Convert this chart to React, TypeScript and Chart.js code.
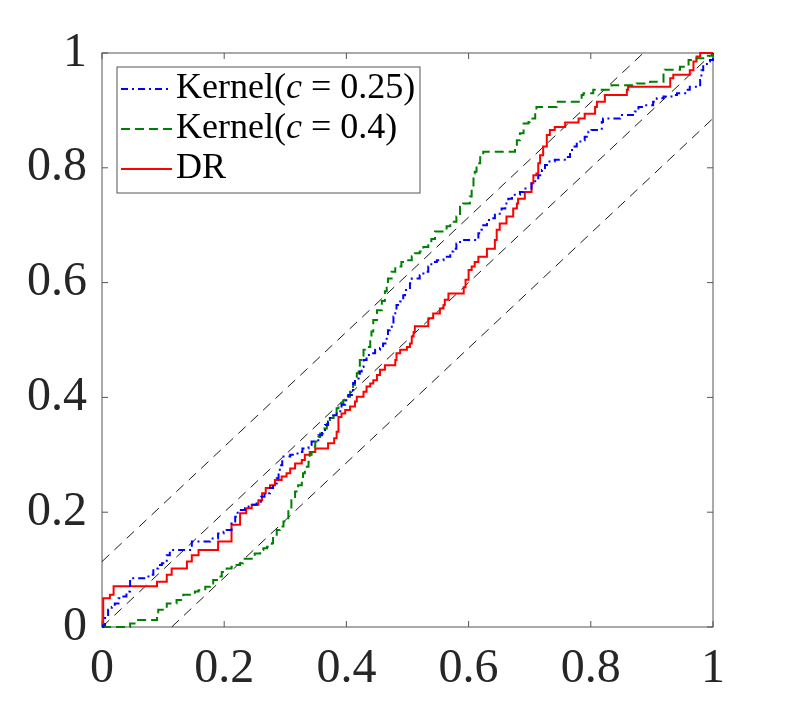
import React, { useEffect, useRef } from "react";
import Chart from "chart.js/auto";

// axis ticks
const tickValues = [0, 0.2, 0.4, 0.6, 0.8, 1];
const tickLabels = ["0", "0.2", "0.4", "0.6", "0.8", "1"];

// half-width of the dashed band around the diagonal
const bandOffset = 0.114;

// Kernel(c = 0.25)
const kernel025X = [
  0, 0.002, 0.005, 0.01, 0.016, 0.021, 0.027, 0.035, 0.04, 0.046, 0.073, 0.076, 0.084, 0.092, 0.098,
  0.106, 0.111, 0.147, 0.177, 0.19, 0.199, 0.204, 0.212, 0.218, 0.222, 0.234, 0.24, 0.245, 0.253,
  0.26, 0.266, 0.275, 0.28, 0.286, 0.289, 0.291, 0.295, 0.308, 0.32, 0.328, 0.338, 0.343, 0.354,
  0.36, 0.365, 0.37, 0.373, 0.376, 0.384, 0.39, 0.392, 0.398, 0.403, 0.409, 0.411, 0.414, 0.42,
  0.422, 0.425, 0.428, 0.433, 0.441, 0.447, 0.455, 0.46, 0.466, 0.468, 0.471, 0.477, 0.48, 0.482,
  0.488, 0.493, 0.496, 0.504, 0.507, 0.52, 0.526, 0.534, 0.539, 0.548, 0.559, 0.57, 0.575, 0.58,
  0.586, 0.616, 0.621, 0.624, 0.63, 0.638, 0.643, 0.649, 0.654, 0.66, 0.665, 0.671, 0.684, 0.69,
  0.703, 0.709, 0.714, 0.72, 0.725, 0.73, 0.741, 0.76, 0.766, 0.771, 0.777, 0.785, 0.79, 0.796,
  0.801, 0.818, 0.82, 0.848, 0.872, 0.878, 0.886, 0.902, 0.908, 0.919, 0.932, 0.941, 0.957, 0.962,
  0.979, 0.981, 0.984, 0.99, 0.995, 1,
];
const kernel025Y = [
  0, 0.003, 0.018, 0.03, 0.035, 0.041, 0.05, 0.053, 0.062, 0.085, 0.088, 0.091, 0.102, 0.108, 0.111,
  0.125, 0.134, 0.149, 0.154, 0.163, 0.166, 0.169, 0.184, 0.192, 0.204, 0.207, 0.21, 0.213, 0.215,
  0.227, 0.233, 0.242, 0.25, 0.259, 0.271, 0.282, 0.297, 0.3, 0.305, 0.311, 0.317, 0.323, 0.334,
  0.34, 0.352, 0.358, 0.364, 0.369, 0.372, 0.378, 0.387, 0.395, 0.404, 0.413, 0.425, 0.433, 0.439,
  0.445, 0.453, 0.465, 0.474, 0.477, 0.483, 0.486, 0.494, 0.506, 0.517, 0.523, 0.541, 0.552, 0.561,
  0.567, 0.578, 0.587, 0.599, 0.607, 0.613, 0.619, 0.628, 0.636, 0.639, 0.645, 0.654, 0.659, 0.668,
  0.674, 0.686, 0.692, 0.7, 0.709, 0.712, 0.718, 0.72, 0.729, 0.738, 0.746, 0.753, 0.758, 0.764,
  0.773, 0.779, 0.787, 0.796, 0.805, 0.811, 0.814, 0.819, 0.831, 0.837, 0.846, 0.848, 0.854, 0.863,
  0.866, 0.88, 0.886, 0.892, 0.898, 0.906, 0.909, 0.915, 0.921, 0.924, 0.927, 0.93, 0.936, 0.941,
  0.953, 0.97, 0.979, 0.985, 0.988, 1,
];

// Kernel(c = 0.4)
const kernel04X = [
  0, 0.046, 0.057, 0.09, 0.092, 0.106, 0.122, 0.133, 0.152, 0.158, 0.169, 0.177, 0.182, 0.19, 0.196,
  0.204, 0.212, 0.22, 0.226, 0.231, 0.25, 0.259, 0.264, 0.27, 0.278, 0.28, 0.286, 0.291, 0.297,
  0.305, 0.31, 0.316, 0.321, 0.327, 0.329, 0.332, 0.338, 0.34, 0.343, 0.346, 0.349, 0.354, 0.357,
  0.362, 0.368, 0.373, 0.379, 0.384, 0.387, 0.395, 0.403, 0.406, 0.411, 0.414, 0.417, 0.42, 0.422,
  0.428, 0.433, 0.439, 0.441, 0.444, 0.45, 0.458, 0.463, 0.466, 0.468, 0.474, 0.48, 0.485, 0.49,
  0.499, 0.507, 0.512, 0.52, 0.526, 0.534, 0.539, 0.545, 0.564, 0.57, 0.58, 0.586, 0.591, 0.602,
  0.605, 0.608, 0.61, 0.613, 0.619, 0.624, 0.676, 0.679, 0.684, 0.69, 0.698, 0.7, 0.709, 0.711,
  0.744, 0.785, 0.788, 0.804, 0.834, 0.875, 0.897, 0.919, 0.921, 0.946, 0.96, 0.973, 0.984, 1,
];
const kernel04Y = [
  0, 0.006, 0.012, 0.021, 0.03, 0.041, 0.047, 0.056, 0.062, 0.064, 0.07, 0.076, 0.082, 0.088, 0.096,
  0.102, 0.105, 0.108, 0.111, 0.119, 0.128, 0.134, 0.137, 0.14, 0.146, 0.157, 0.169, 0.175, 0.184,
  0.204, 0.221, 0.236, 0.247, 0.253, 0.268, 0.279, 0.288, 0.3, 0.305, 0.314, 0.323, 0.331, 0.337,
  0.346, 0.358, 0.364, 0.372, 0.381, 0.39, 0.395, 0.401, 0.41, 0.422, 0.43, 0.442, 0.453, 0.465,
  0.483, 0.488, 0.5, 0.515, 0.535, 0.552, 0.568, 0.585, 0.597, 0.607, 0.619, 0.625, 0.628, 0.636,
  0.639, 0.646, 0.651, 0.654, 0.662, 0.668, 0.676, 0.689, 0.698, 0.706, 0.715, 0.732, 0.738, 0.75,
  0.767, 0.79, 0.793, 0.808, 0.822, 0.828, 0.837, 0.848, 0.86, 0.877, 0.88, 0.886, 0.901, 0.906,
  0.915, 0.927, 0.93, 0.936, 0.944, 0.947, 0.95, 0.968, 0.971, 0.976, 0.988, 0.991, 0.995, 1,
];

// DR
const drX = [
  0, 0.002, 0.013, 0.019, 0.09, 0.106, 0.114, 0.139, 0.147, 0.158, 0.19, 0.212, 0.226, 0.236, 0.245,
  0.256, 0.262, 0.268, 0.275, 0.283, 0.294, 0.302, 0.308, 0.316, 0.327, 0.332, 0.34, 0.349, 0.37,
  0.38, 0.384, 0.387, 0.392, 0.398, 0.406, 0.414, 0.417, 0.428, 0.433, 0.439, 0.444, 0.45, 0.455,
  0.463, 0.48, 0.482, 0.488, 0.499, 0.504, 0.507, 0.51, 0.512, 0.534, 0.542, 0.553, 0.559, 0.561,
  0.567, 0.592, 0.595, 0.6, 0.605, 0.61, 0.616, 0.63, 0.643, 0.646, 0.651, 0.662, 0.673, 0.679,
  0.681, 0.692, 0.703, 0.706, 0.711, 0.714, 0.717, 0.722, 0.728, 0.733, 0.741, 0.758, 0.78, 0.79,
  0.807, 0.81, 0.823, 0.859, 0.861, 0.93, 0.935, 0.962, 0.968, 0.973, 0.979, 1,
];
const drY = [
  0, 0.05, 0.056, 0.071, 0.079, 0.091, 0.102, 0.114, 0.125, 0.134, 0.149, 0.178, 0.198, 0.207, 0.213,
  0.221, 0.233, 0.242, 0.247, 0.256, 0.262, 0.268, 0.276, 0.285, 0.291, 0.3, 0.305, 0.311, 0.32,
  0.329, 0.34, 0.366, 0.372, 0.378, 0.384, 0.393, 0.401, 0.41, 0.419, 0.424, 0.43, 0.439, 0.448,
  0.456, 0.465, 0.477, 0.483, 0.488, 0.494, 0.506, 0.514, 0.524, 0.538, 0.546, 0.555, 0.561, 0.57,
  0.581, 0.592, 0.605, 0.622, 0.628, 0.636, 0.645, 0.659, 0.674, 0.692, 0.703, 0.715, 0.729, 0.738,
  0.746, 0.758, 0.773, 0.787, 0.79, 0.808, 0.822, 0.837, 0.857, 0.866, 0.871, 0.879, 0.886, 0.894,
  0.906, 0.915, 0.927, 0.936, 0.941, 0.956, 0.962, 0.97, 0.985, 0.994, 1, 1,
];

const legendLabels = ["Kernel(c = 0.25)", "Kernel(c = 0.4)", "DR"];

const AXIS_COLOR = "#262626";
const FONT = "'Liberation Serif', 'Times New Roman', serif";

function zip(xs: number[], ys: number[]) {
  return xs.map((x, i) => ({ x, y: ys[i] }));
}

// MATLAB style box with inward ticks on every side
const plotBox = {
  id: "plotBox",
  beforeDatasetsDraw(chart: any) {
    const { ctx, chartArea, scales } = chart;
    const { left, right, top, bottom } = chartArea;
    ctx.save();
    ctx.strokeStyle = "#555555";
    ctx.lineWidth = 1;
    ctx.strokeRect(left, top, right - left, bottom - top);
    const len = 6;
    ctx.beginPath();
    tickValues.forEach((v) => {
      const px = scales.x.getPixelForValue(v);
      ctx.moveTo(px, bottom);
      ctx.lineTo(px, bottom - len);
      ctx.moveTo(px, top);
      ctx.lineTo(px, top + len);
      const py = scales.y.getPixelForValue(v);
      ctx.moveTo(left, py);
      ctx.lineTo(left + len, py);
      ctx.moveTo(right, py);
      ctx.lineTo(right - len, py);
    });
    ctx.stroke();
    ctx.restore();
  },
};

// legend box in the upper left, with an italic "c"
const boxLegend = {
  id: "boxLegend",
  afterDraw(chart: any) {
    const { ctx } = chart;
    const datasets = chart.data.datasets;
    const x0 = 117;
    const y0 = 67;
    const w = 303;
    const h = 126;
    ctx.save();
    ctx.fillStyle = "#ffffff";
    ctx.fillRect(x0, y0, w, h);
    ctx.strokeStyle = "#555555";
    ctx.lineWidth = 1;
    ctx.strokeRect(x0, y0, w, h);

    legendLabels.forEach((label, i) => {
      const ds = datasets[i];
      const baseline = 98 + i * 40;
      const ly = baseline - 9;
      ctx.beginPath();
      ctx.strokeStyle = ds.borderColor;
      ctx.lineWidth = ds.borderWidth;
      ctx.setLineDash(ds.borderDash || []);
      ctx.moveTo(121, ly);
      ctx.lineTo(172, ly);
      ctx.stroke();
      ctx.setLineDash([]);

      ctx.fillStyle = "#000000";
      ctx.textBaseline = "alphabetic";
      ctx.textAlign = "left";
      let tx = 176;
      const m = label.match(/^(.*\()c( = .*)$/);
      const parts = m
        ? [
            { t: m[1], it: false },
            { t: "c", it: true },
            { t: m[2], it: false },
          ]
        : [{ t: label, it: false }];
      parts.forEach((p) => {
        ctx.font = (p.it ? "italic " : "") + "36px " + FONT;
        ctx.fillText(p.t, tx, baseline);
        tx += ctx.measureText(p.t).width;
      });
    });
    ctx.restore();
  },
};

export default function App() {
  const canvasRef = useRef<HTMLCanvasElement | null>(null);
  const chartRef = useRef<Chart | null>(null);

  useEffect(() => {
    if (!canvasRef.current) return;
    if (chartRef.current) chartRef.current.destroy();

    const curve = (label: string, xs: number[], ys: number[], color: string, dash: number[]) => ({
      label,
      data: zip(xs, ys),
      showLine: true,
      stepped: "before" as const,
      borderColor: color,
      borderWidth: 2,
      borderDash: dash,
      pointRadius: 0,
      pointHoverRadius: 0,
      clip: false as const,
    });
    const guide = (xs: number[], ys: number[]) => ({
      label: "",
      data: zip(xs, ys),
      showLine: true,
      borderColor: "#000000",
      borderWidth: 0.9,
      borderDash: [10, 7],
      pointRadius: 0,
      pointHoverRadius: 0,
    });

    chartRef.current = new Chart(canvasRef.current, {
      type: "scatter",
      data: {
        datasets: [
          curve(legendLabels[0], kernel025X, kernel025Y, "#0000ff", [7, 4, 2, 4]),
          curve(legendLabels[1], kernel04X, kernel04Y, "#008000", [9, 5]),
          curve(legendLabels[2], drX, drY, "#ff0000", []),
          guide([0, 1], [0, 1]),
          guide([0, 1 - bandOffset], [bandOffset, 1]),
          guide([bandOffset, 1], [0, 1 - bandOffset]),
        ] as any,
      },
      options: {
        responsive: false,
        animation: false,
        layout: { padding: { top: 53, right: 76, left: 0, bottom: 0 } },
        plugins: {
          legend: { display: false },
          tooltip: { enabled: false },
          title: { display: false },
        },
        scales: {
          x: {
            type: "linear",
            min: 0,
            max: 1,
            grid: { display: false, drawTicks: false },
            border: { display: false },
            afterBuildTicks: (scale: any) => {
              scale.ticks = tickValues.map((v) => ({ value: v }));
            },
            afterFit: (scale: any) => {
              scale.height = 78;
            },
            ticks: {
              padding: 14,
              color: AXIS_COLOR,
              font: { family: FONT, size: 48 },
              maxRotation: 0,
              autoSkip: false,
              callback: (_v: any, i: number) => tickLabels[i],
            },
          },
          y: {
            type: "linear",
            min: 0,
            max: 1,
            grid: { display: false, drawTicks: false },
            border: { display: false },
            afterBuildTicks: (scale: any) => {
              scale.ticks = tickValues.map((v) => ({ value: v }));
            },
            afterFit: (scale: any) => {
              scale.width = 102;
            },
            ticks: {
              padding: 15,
              color: AXIS_COLOR,
              font: { family: FONT, size: 48 },
              autoSkip: false,
              callback: (_v: any, i: number) => tickLabels[i],
            },
          },
        },
      },
      plugins: [plotBox, boxLegend],
    });

    return () => {
      if (chartRef.current) {
        chartRef.current.destroy();
        chartRef.current = null;
      }
    };
  }, []);

  return (
    <div style={{ position: "absolute", left: 0, top: 0, width: 789, height: 705, background: "#fff" }}>
      <canvas ref={canvasRef} width={789} height={705} style={{ width: 789, height: 705 }}></canvas>
    </div>
  );
}
